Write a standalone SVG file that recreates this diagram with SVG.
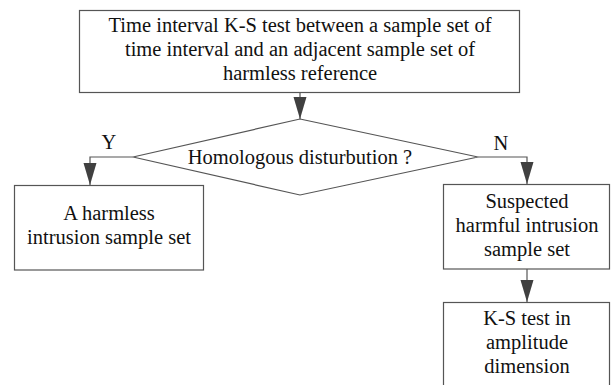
<svg xmlns="http://www.w3.org/2000/svg" width="611" height="385" viewBox="0 0 611 385">
<defs>
<marker id="ah" markerUnits="userSpaceOnUse" markerWidth="22" markerHeight="14" refX="22" refY="6.5" orient="auto">
<path d="M0,0 L22,6.5 L0,13 Z" fill="#404040"/>
</marker>
</defs>
<style>
.box{fill:#fff;stroke:#555;stroke-width:1.2}
.t{font-family:'Liberation Serif','Times New Roman',Times,'DejaVu Serif',serif;font-size:20.5px;fill:#111;text-anchor:middle}
.c{fill:none;stroke:#555;stroke-width:1.2;marker-end:url(#ah)}
</style>
<rect width="611" height="385" fill="#fff"/>
<g id="connectors">
<path class="c" d="M300,92.5 L300,119"/>
<path class="c" d="M133,157 L90,157 L90,185"/>
<path class="c" d="M478,157 L527,157 L527,184"/>
<path class="c" d="M527,269 L527,302"/>
</g>
<g id="start">
<rect class="box" x="79.5" y="10.5" width="440" height="82"/>
<text class="t" font-family="Liberation Serif" x="300" y="32">Time interval K-S test between a sample set of</text>
<text class="t" font-family="Liberation Serif" x="300" y="56">time interval and an adjacent sample set of</text>
<text class="t" font-family="Liberation Serif" x="300" y="80">harmless reference</text>
</g>
<g id="decision">
<path class="box" d="M300,119 L478,157 L300,195 L133,157 Z"/>
<text class="t" font-family="Liberation Serif" x="300" y="164">Homologous disturbution ?</text>
</g>
<g id="labels">
<text class="t" font-family="Liberation Serif" x="109" y="149">Y</text>
<text class="t" font-family="Liberation Serif" x="501" y="150">N</text>
</g>
<g id="harmless">
<rect class="box" x="14.5" y="185.5" width="189" height="84.5"/>
<text class="t" font-family="Liberation Serif" x="109" y="220">A harmless</text>
<text class="t" font-family="Liberation Serif" x="109" y="244">intrusion sample set</text>
</g>
<g id="suspected">
<rect class="box" x="443.5" y="184.5" width="166" height="84.5"/>
<text class="t" font-family="Liberation Serif" x="527" y="208">Suspected</text>
<text class="t" font-family="Liberation Serif" x="527" y="232">harmful intrusion</text>
<text class="t" font-family="Liberation Serif" x="527" y="256">sample set</text>
</g>
<g id="amplitude">
<rect class="box" x="443.5" y="302.5" width="166" height="95"/>
<text class="t" font-family="Liberation Serif" x="527" y="325">K-S test in</text>
<text class="t" font-family="Liberation Serif" x="527" y="349">amplitude</text>
<text class="t" font-family="Liberation Serif" x="527" y="373">dimension</text>
</g>
</svg>
